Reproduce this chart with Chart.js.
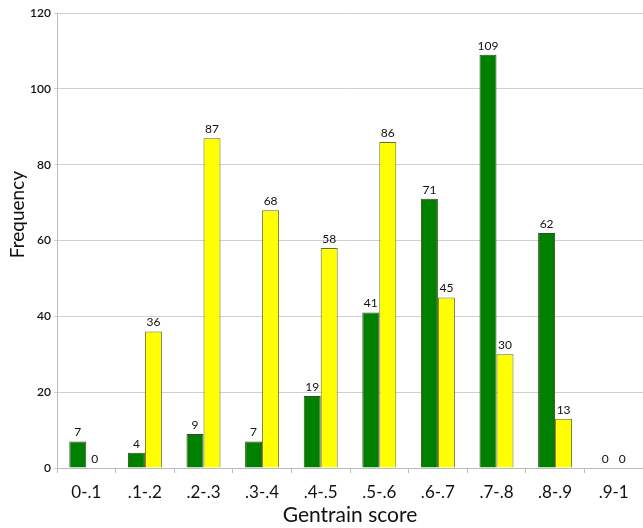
<!DOCTYPE html>
<html><head><meta charset="utf-8">
<script src="https://cdn.jsdelivr.net/npm/chart.js@4.4.1/dist/chart.umd.min.js"></script>
<style>html,body{margin:0;padding:0;background:#fff}#wrap{width:643px;height:528px}</style>
</head><body><div id="wrap"><canvas id="c"></canvas></div>
<script>
const categories = ["0-.1", ".1-.2", ".2-.3", ".3-.4", ".4-.5", ".5-.6", ".6-.7", ".7-.8", ".8-.9", ".9-1"];
const greenValues = [7, 4, 9, 7, 19, 41, 71, 109, 62, 0];
const yellowValues = [0, 36, 87, 68, 58, 86, 45, 30, 13, 0];
const yTicks = [0, 20, 40, 60, 80, 100, 120];
const yTitle = "Frequency";
const xTitle = "Gentrain score";

const FONT = "Lato, 'Open Sans', 'Liberation Sans', sans-serif";

const labelPlugin = {
  id: 'barLabels',
  afterDatasetsDraw(chart) {
    const ctx = chart.ctx;
    ctx.save();
    ctx.font = "12px " + FONT;
    ctx.fillStyle = "#111";
    ctx.textAlign = "center";
    ctx.textBaseline = "bottom";
    chart.data.datasets.forEach((ds, i) => {
      const meta = chart.getDatasetMeta(i);
      meta.data.forEach((bar, j) => {
        ctx.fillText(String(ds.data[j]), bar.x, bar.y - 3);
      });
    });
    ctx.restore();
  },
  afterDraw(chart) {
    const ctx = chart.ctx;
    ctx.save();
    ctx.font = "19px " + FONT;
    ctx.fillStyle = "#111";
    ctx.textAlign = "center";
    ctx.textBaseline = "middle";
    ctx.translate(18, chart.chartArea.top + (chart.chartArea.bottom - chart.chartArea.top) * 0.443);
    ctx.rotate(-Math.PI / 2);
    ctx.fillText(yTitle, 0, 0);
    ctx.restore();
  }
};

new Chart(document.getElementById('c'), {
  type: 'bar',
  data: {
    labels: categories,
    datasets: [
      { data: greenValues, backgroundColor: '#008000', borderColor: '#3d4a1c', borderWidth: 1, borderSkipped: 'bottom' },
      { data: yellowValues, backgroundColor: '#ffff00', borderColor: '#6b6b2a', borderWidth: 1, borderSkipped: 'bottom' }
    ]
  },
  options: {
    responsive: true,
    maintainAspectRatio: false,
    animation: false,
    layout: { padding: { top: 13, right: 0, left: 0, bottom: 0 } },
    plugins: { legend: { display: false }, tooltip: { enabled: false } },
    datasets: { bar: { categoryPercentage: 0.58, barPercentage: 1.0 } },
    scales: {
      x: {
        grid: { offset: true, drawOnChartArea: false, tickLength: 5, color: '#bbb' },
        border: { color: '#bbb' },
        ticks: { color: '#111', font: { family: FONT, size: 17 }, padding: 9, maxRotation: 0 },
        title: { display: true, text: xTitle, color: '#111', font: { family: FONT, size: 21 }, padding: { top: 0, bottom: 0 } },
        afterFit(scale) { scale.height = 60; }
      },
      y: {
        min: 0, max: 120,
        afterBuildTicks(scale) { scale.ticks = yTicks.map(v => ({ value: v })); },
        grid: { color: '#cfcfcf', tickLength: 3 },
        border: { color: '#bbb' },
        ticks: { color: '#111', font: { family: FONT, size: 12, weight: '600' }, padding: 3 },
        title: { display: false },
        afterFit(scale) { scale.width = 57; }
      }
    }
  },
  plugins: [labelPlugin]
});
</script>
</body></html>
